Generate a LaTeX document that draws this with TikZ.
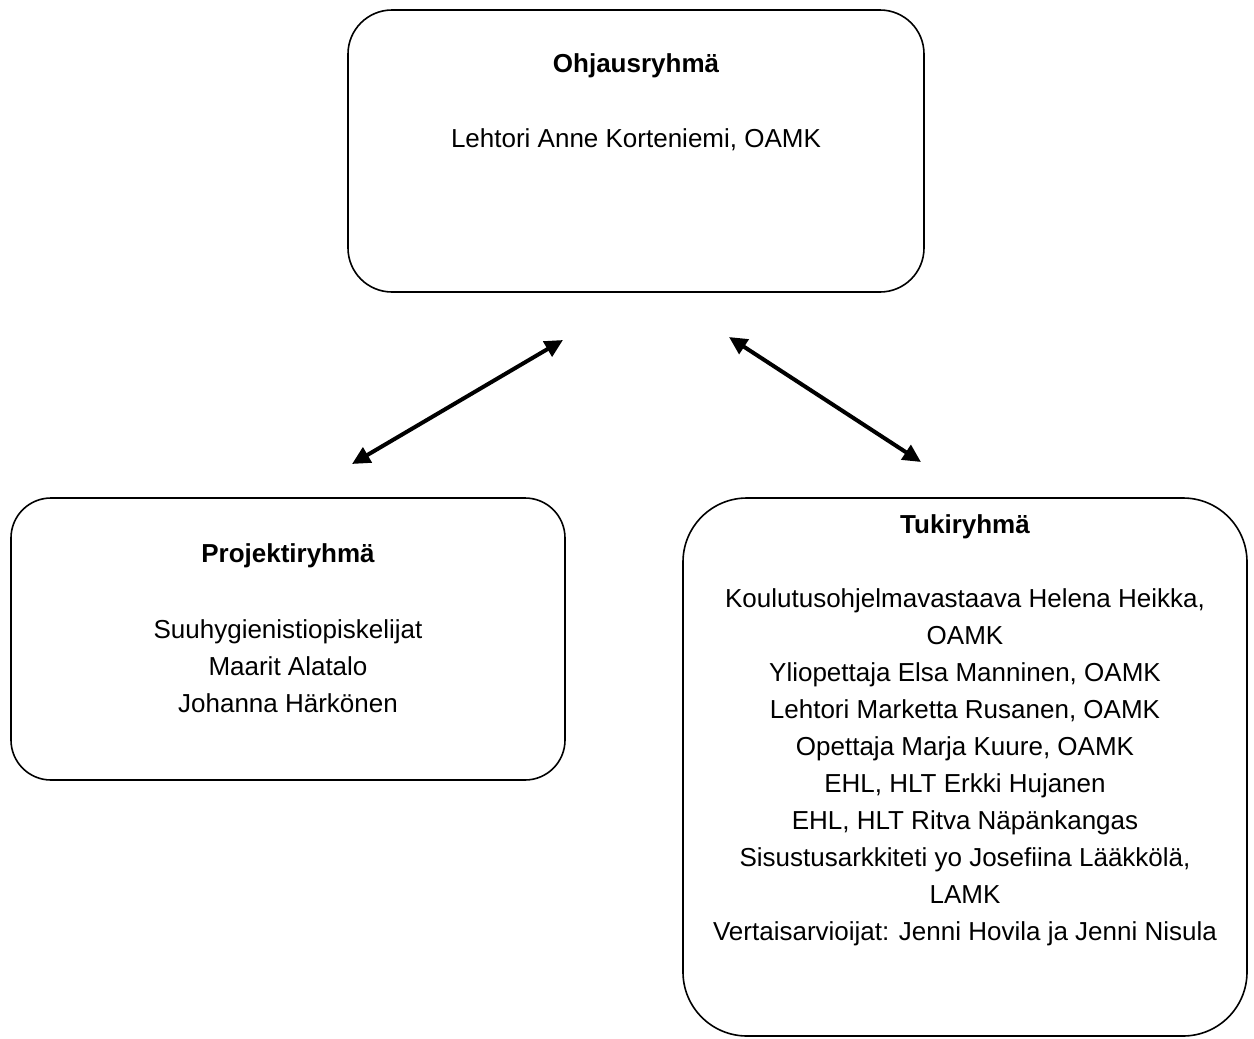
\documentclass[tikz,border=0pt]{standalone}
\usepackage{fontspec}
\setmainfont{Liberation Sans}
\usetikzlibrary{arrows.meta}

\begin{document}
\begin{tikzpicture}[x=0.5pt, y=-0.5pt,
  groupbox/.style={draw, line width=0.8pt, rectangle, inner sep=0pt},
  grouptitle/.style={font=\fontsize{13}{18.5}\selectfont\bfseries},
  groupmembers/.style={font=\fontsize{13}{18.5}\selectfont, align=center},
  link/.style={line width=2pt, {Triangle[length=9pt,width=8.5pt]}-{Triangle[length=9pt,width=8.5pt]}}]
\useasboundingbox (0,0) rectangle (1254,1039);
%
\node[groupbox, rounded corners=22pt, minimum width=288pt, minimum height=141pt] (ohjaus) at (636,151) {};
\node[grouptitle] (ohjaustitle) at (636,66) {Ohjausryhmä};
\node[groupmembers] (ohjausmembers) at (636,140) {Lehtori Anne Korteniemi, OAMK};
%
\node[groupbox, rounded corners=20pt, minimum width=277pt, minimum height=141pt] (projekti) at (288,639) {};
\node[grouptitle] (projektititle) at (288,556) {Projektiryhmä};
\node[groupmembers] (projektimembers) at (288,666) {Suuhygienistiopiskelijat\\Maarit Alatalo\\Johanna Härkönen};
%
\node[groupbox, rounded corners=32pt, minimum width=282pt, minimum height=269pt] (tuki) at (965,767) {};
\node[grouptitle] (tukititle) at (965,527) {Tukiryhmä};
\node[groupmembers] (tukimembers) at (965,767) {Koulutusohjelmavastaava Helena Heikka,\\OAMK\\Yliopettaja Elsa Manninen, OAMK\\Lehtori Marketta Rusanen, OAMK\\Opettaja Marja Kuure, OAMK\\EHL, HLT Erkki Hujanen\\EHL, HLT Ritva Näpänkangas\\Sisustusarkkiteti yo Josefiina Lääkkölä,\\LAMK\\Vertaisarvioijat: Jenni Hovila ja Jenni Nisula};
%
\coordinate (leftlow) at (352,464);
\coordinate (lefthigh) at (563,340);
\coordinate (righthigh) at (729,337);
\coordinate (rightlow) at (921,462);
\draw[link] (leftlow) -- (lefthigh);
\draw[link] (righthigh) -- (rightlow);
\end{tikzpicture}
\end{document}
